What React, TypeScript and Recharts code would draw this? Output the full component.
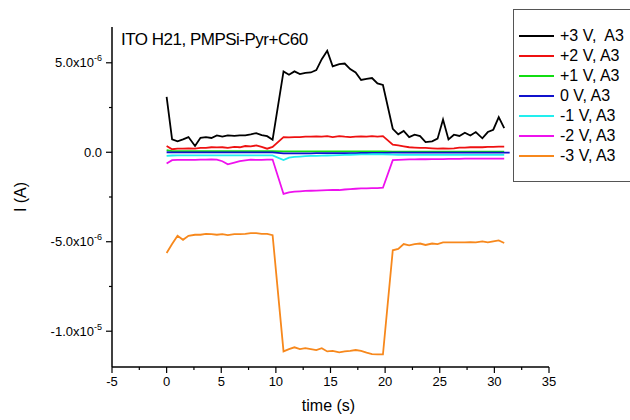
import { LineChart, Line, XAxis, YAxis, Legend, Label } from "recharts";

// time in s, current in units of 1e-6 A
const time = [
  0, 0.5, 1.0, 1.5, 2.0, 2.6, 3.1, 3.6, 4.1, 4.6, 5.1, 5.6, 6.2, 6.7, 7.2, 7.7, 8.2, 8.7, 9.2, 9.7,
  10.7, 11.2, 11.7, 12.2, 12.7, 13.2, 13.7, 14.2, 14.7, 15.2, 15.8, 16.3, 16.8, 17.3, 17.8, 18.3, 18.8, 19.3, 19.8,
  20.7, 21.2, 21.7, 22.2, 22.7, 23.2, 23.7, 24.3, 24.8, 25.3, 25.8, 26.3, 26.8, 27.3, 27.8, 28.3, 28.9, 29.4, 29.9, 30.4, 30.9,
  31.4,
];

const plus3V = [
  3.1, 0.72, 0.61, 0.72, 0.85, 0.35, 0.81, 0.85, 0.8, 0.94, 0.87, 0.94, 0.92, 0.94, 0.94, 1.0, 1.07, 0.96, 0.9, 0.7,
  4.52, 4.33, 4.52, 4.37, 4.44, 4.46, 4.59, 5.2, 5.67, 4.8, 4.93, 4.96, 4.65, 4.46, 4.04, 4.1, 4.15, 3.85, 3.76,
  1.31, 1.0, 1.19, 0.85, 0.98, 0.9, 0.57, 0.61, 0.76, 1.83, 0.72, 0.98, 0.91, 1.09, 0.94, 1.13, 0.78, 1.13, 1.26, 1.96, 1.35,
];
const plus2V = [
  0.35, 0.17, 0.2, 0.2, 0.22, 0.2, 0.25, 0.25, 0.28, 0.27, 0.28, 0.25, 0.3, 0.28, 0.35, 0.33, 0.38, 0.3, 0.2, 0.3,
  0.85, 0.83, 0.85, 0.85, 0.87, 0.87, 0.89, 0.87, 0.9, 0.85, 0.9, 0.87, 0.85, 0.87, 0.89, 0.87, 0.9, 0.87, 0.9,
  0.42, 0.38, 0.33, 0.28, 0.26, 0.24, 0.24, 0.22, 0.2, 0.22, 0.2, 0.22, 0.26, 0.26, 0.28, 0.28, 0.28, 0.3, 0.3, 0.31, 0.31,
];
const plus1V = [
  0.12, 0.06, 0.06, 0.06, 0.06, 0.06, 0.06, 0.06, 0.06, 0.06, 0.06, 0.06, 0.06, 0.06, 0.06, 0.06, 0.06, 0.06, 0.06, 0.06,
  0.05, 0.05, 0.05, 0.05, 0.05, 0.05, 0.05, 0.05, 0.05, 0.05, 0.05, 0.05, 0.05, 0.05, 0.05, 0.05, 0.05, 0.05, 0.05,
  0.04, 0.04, 0.04, 0.04, 0.04, 0.04, 0.04, 0.04, 0.04, 0.04, 0.04, 0.04, 0.04, 0.04, 0.04, 0.04, 0.04, 0.04, 0.04, 0.04, 0.04,
];
const zeroV = [
  0.0, -0.01, -0.01, -0.01, -0.01, -0.01, -0.01, -0.01, -0.01, -0.01, -0.01, -0.01, -0.01, -0.01, -0.01, -0.01, -0.01, -0.01, -0.01, -0.01,
  -0.06, -0.06, -0.06, -0.06, -0.06, -0.06, -0.05, -0.05, -0.05, -0.05, -0.05, -0.05, -0.05, -0.05, -0.04, -0.04, -0.04, -0.04, -0.04,
  -0.02, -0.02, -0.02, -0.02, -0.02, -0.02, -0.02, -0.02, -0.02, -0.02, -0.02, -0.02, -0.02, -0.02, -0.02, -0.02, -0.02, -0.02, -0.02, -0.02, -0.02,
  -0.02,
];
const minus1V = [
  -0.2, -0.18, -0.17, -0.17, -0.17, -0.17, -0.17, -0.17, -0.17, -0.17, -0.17, -0.17, -0.17, -0.17, -0.17, -0.17, -0.17, -0.17, -0.17, -0.17,
  -0.44, -0.3, -0.26, -0.24, -0.22, -0.2, -0.2, -0.19, -0.18, -0.17, -0.16, -0.15, -0.14, -0.13, -0.12, -0.12, -0.11, -0.11, -0.11,
  -0.13, -0.14, -0.15, -0.15, -0.15, -0.15, -0.15, -0.15, -0.15, -0.15, -0.15, -0.15, -0.15, -0.15, -0.15, -0.15, -0.15, -0.15, -0.15, -0.15, -0.15,
];
const minus2V = [
  -0.63, -0.44, -0.43, -0.42, -0.42, -0.42, -0.41, -0.41, -0.4, -0.41, -0.5, -0.67, -0.58, -0.5, -0.45, -0.41, -0.43, -0.42, -0.41, -0.41,
  -2.33, -2.24, -2.2, -2.18, -2.16, -2.15, -2.14, -2.13, -2.12, -2.11, -2.11, -2.08, -2.06, -2.04, -2.02, -2.02, -2.0, -2.0, -1.98,
  -0.44, -0.42, -0.41, -0.4, -0.4, -0.39, -0.39, -0.38, -0.38, -0.38, -0.37, -0.37, -0.37, -0.36, -0.36, -0.36, -0.35, -0.35, -0.35, -0.35, -0.35,
];
const minus3V = [
  -5.63, -5.13, -4.67, -4.89, -4.67, -4.61, -4.61, -4.56, -4.58, -4.61, -4.58, -4.63, -4.58, -4.58, -4.56, -4.52, -4.52, -4.56, -4.56, -4.63,
  -11.13, -11.0, -10.9, -11.0, -10.95, -11.0, -11.06, -10.95, -11.13, -11.1, -11.18, -11.13, -11.1, -11.05, -11.1, -11.2, -11.28, -11.3, -11.3,
  -5.48, -5.4, -5.13, -5.2, -5.13, -5.1, -5.18, -5.1, -5.13, -5.04, -5.04, -5.04, -5.04, -5.04, -5.02, -5.04, -4.98, -5.04, -4.98, -4.93, -5.07,
];

const xTicks = [-5, -2.5, 0, 2.5, 5, 7.5, 10, 12.5, 15, 17.5, 20, 22.5, 25, 27.5, 30, 32.5, 35];
const yTicks = [-10, -7.5, -5, -2.5, 0, 2.5, 5];

const series = [
  { key: "p3", name: "+3 V,  A3", color: "#000000", values: plus3V },
  { key: "p2", name: "+2 V, A3", color: "#ee1111", values: plus2V },
  { key: "p1", name: "+1 V, A3", color: "#11dd11", values: plus1V },
  { key: "z0", name: "0 V, A3", color: "#1111cc", values: zeroV },
  { key: "m1", name: "-1 V, A3", color: "#22eeee", values: minus1V },
  { key: "m2", name: "-2 V, A3", color: "#ee11ee", values: minus2V },
  { key: "m3", name: "-3 V, A3", color: "#f7881c", values: minus3V },
];

const data = time.map((t, i) => {
  const row: any = { t };
  series.forEach((s) => {
    row[s.key] = s.values[i] ?? null;
  });
  return row;
});

const FONT = "'Liberation Sans', Arial, sans-serif";

const YTick = (props: any) => {
  const { x, y, payload } = props;
  const v = payload.value;
  const major = v % 5 === 0;
  const ax = x + 6;
  let main = "0.0";
  let sup = "";
  if (v !== 0) {
    const val = v * 1e-6;
    const exp = Math.floor(Math.log10(Math.abs(val)));
    const mant = val / Math.pow(10, exp);
    main = mant.toFixed(1) + "x10";
    sup = String(exp);
  }
  return (
    <g>
      <line x1={ax - (major ? 6 : 3)} x2={ax} y1={y} y2={y} stroke="#000" strokeWidth={1.2} />
      {major && (
        <text x={x - 4} y={y + 4.5} textAnchor="end" fontSize={13} fontFamily={FONT} fill="#000">
          <tspan>{main}</tspan>
          {sup && (
            <tspan dy={-6} fontSize={9}>
              {sup}
            </tspan>
          )}
        </text>
      )}
    </g>
  );
};

const XTick = (props: any) => {
  const { x, y, payload } = props;
  const v = payload.value;
  const major = v % 5 === 0;
  const ay = y - 6;
  return (
    <g>
      <line x1={x} x2={x} y1={ay} y2={ay + (major ? 6 : 3)} stroke="#000" strokeWidth={1.2} />
      {major && (
        <text x={x} y={y + 13} textAnchor="middle" fontSize={13} fontFamily={FONT} fill="#000">
          {v}
        </text>
      )}
    </g>
  );
};

const renderLegend = () => (
  <div
    style={{
      border: "1px solid #555",
      background: "#fff",
      width: 125,
      height: 173,
      boxSizing: "border-box",
      paddingTop: 16,
      fontFamily: FONT,
      fontSize: 16,
    }}
  >
    {series.map((s) => (
      <div key={s.key} style={{ display: "flex", alignItems: "center", height: 20 }}>
        <div style={{ width: 35, height: 2, background: s.color, marginLeft: 5, marginRight: 6 }} />
        <span style={{ whiteSpace: "pre", color: "#000" }}>{s.name}</span>
      </div>
    ))}
  </div>
);

export default function App() {
  return (
    <div style={{ position: "absolute", left: 0, top: 0, width: 630, height: 420, background: "#fff" }}>
      <LineChart width={630} height={420} data={data} margin={{ top: 27, right: 81, bottom: 0, left: 0 }}>
        <XAxis
          dataKey="t"
          type="number"
          domain={[-5, 35]}
          ticks={xTicks}
          interval={0}
          height={53}
          tickMargin={0}
          tickLine={false}
          tick={<XTick />}
          axisLine={{ stroke: "#000", strokeWidth: 1.5 }}
        >
          <Label
            content={({ viewBox }: any) => (
              <text
                x={viewBox.x + viewBox.width / 2 - 2}
                y={viewBox.y + 44}
                textAnchor="middle"
                fontSize={16}
                fontFamily={FONT}
                fill="#000"
              >
                time (s)
              </text>
            )}
          />
        </XAxis>
        <YAxis
          type="number"
          domain={[-12, 7]}
          ticks={yTicks}
          interval={0}
          width={112}
          tickMargin={0}
          tickLine={false}
          tick={<YTick />}
          allowDataOverflow
          axisLine={{ stroke: "#000", strokeWidth: 1.5 }}
        >
          <Label
            content={({ viewBox }: any) => {
              const cx = viewBox.x + 26;
              const cy = viewBox.y + viewBox.height / 2;
              return (
                <text
                  x={cx}
                  y={cy}
                  transform={`rotate(-90, ${cx}, ${cy})`}
                  textAnchor="middle"
                  fontSize={16}
                  fontFamily={FONT}
                  fill="#000"
                >
                  I (A)
                </text>
              );
            }}
          />
        </YAxis>
        {series.map((s) => (
          <Line
            key={s.key}
            dataKey={s.key}
            name={s.name}
            stroke={s.color}
            strokeWidth={1.8}
            dot={false}
            type="linear"
            isAnimationActive={false}
          />
        ))}
        <Legend
          layout="vertical"
          align="center"
          verticalAlign="middle"
          content={renderLegend}
          wrapperStyle={{ left: 513, top: 9, width: 125, height: 173 }}
        />
      </LineChart>
      <div
        style={{
          position: "absolute",
          left: 121,
          top: 31,
          fontFamily: FONT,
          fontSize: 17,
          lineHeight: "17px",
          letterSpacing: -0.5,
          color: "#000",
          whiteSpace: "nowrap",
        }}
      >
        ITO H21, PMPSi-Pyr+C60
      </div>
    </div>
  );
}
